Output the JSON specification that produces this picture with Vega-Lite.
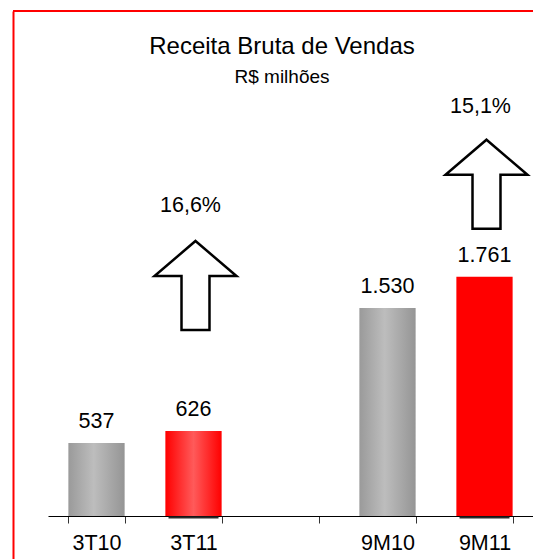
{
  "$schema": "https://vega.github.io/schema/vega-lite/v6.json",
  "width": 520,
  "height": 548,
  "autosize": {"type": "none"},
  "padding": {"left": 13, "top": 11, "right": 0, "bottom": 0},
  "background": "white",
  "config": {"view": {"stroke": null}, "font": "Liberation Sans"},
  "title": {
    "text": "Receita Bruta de Vendas",
    "subtitle": "R$ milhões",
    "anchor": "middle",
    "font": "Liberation Sans",
    "fontSize": 24,
    "fontWeight": "normal",
    "color": "black",
    "subtitleFont": "Liberation Sans",
    "subtitleFontSize": 19,
    "subtitleColor": "black",
    "subtitlePadding": 9,
    "offset": -77,
    "dx": 9
  },
  "data": {
    "values": [
      {"periodo": "3T10", "valor": 537, "rotulo": "537", "grupo": "anterior"},
      {"periodo": "3T11", "valor": 626, "rotulo": "626", "grupo": "atual_trimestre", "crescimento": "16,6%"},
      {"periodo": "9M10", "valor": 1530, "rotulo": "1.530", "grupo": "anterior"},
      {"periodo": "9M11", "valor": 1761, "rotulo": "1.761", "grupo": "atual_acumulado", "crescimento": "15,1%"}
    ]
  },
  "layer": [
    {
      "encoding": {
        "x": {
          "field": "periodo",
          "type": "nominal",
          "sort": null,
          "scale": {
            "domain": ["3T10", "3T11", " ", "9M10", "9M11"],
            "range": [35, 520],
            "paddingInner": 0.42,
            "paddingOuter": 0.21
          },
          "axis": {
            "title": null,
            "labelAngle": 0,
            "labelFont": "Liberation Sans",
            "labelFontSize": 21.5,
            "labelColor": "black",
            "labelPadding": 9,
            "tickColor": "#333333",
            "tickSize": 7,
            "tickBand": "extent",
            "domainColor": "black",
            "domainWidth": 1,
            "offset": -43,
            "grid": false
          }
        },
        "y": {
          "field": "valor",
          "type": "quantitative",
          "scale": {"domain": [-316.4, 3716], "nice": false, "zero": false},
          "axis": {
            "title": null,
            "orient": "left",
            "labels": false,
            "ticks": false,
            "grid": false,
            "domainColor": "#ff0000",
            "domainWidth": 2,
            "values": [3716]
          }
        }
      },
      "layer": [
        {
          "transform": [{"filter": "datum.grupo !== 'anterior'"}],
          "mark": {"type": "tick", "color": "#2a2a2a", "thickness": 2, "size": 50, "yOffset": 1.5, "opacity": 1},
          "encoding": {"y": {"datum": 0}}
        },
        {
          "transform": [{"filter": "datum.grupo === 'anterior'"}],
          "mark": {
            "type": "bar",
            "fill": {
              "gradient": "linear",
              "stops": [
                {"offset": 0, "color": "#9a9a9a"},
                {"offset": 0.45, "color": "#bdbdbd"},
                {"offset": 1, "color": "#959595"}
              ]
            }
          },
          "encoding": {"y2": {"datum": 0}}
        },
        {
          "transform": [{"filter": "datum.grupo === 'atual_trimestre'"}],
          "mark": {
            "type": "bar",
            "fill": {
              "gradient": "linear",
              "stops": [
                {"offset": 0, "color": "#ff0000"},
                {"offset": 0.5, "color": "#ff5a5a"},
                {"offset": 1, "color": "#ff0000"}
              ]
            }
          },
          "encoding": {"y2": {"datum": 0}}
        },
        {
          "transform": [{"filter": "datum.grupo === 'atual_acumulado'"}],
          "mark": {"type": "bar", "fill": "#ff0000"},
          "encoding": {"y2": {"datum": 0}}
        },
        {
          "mark": {
            "type": "text",
            "dy": -15,
            "baseline": "alphabetic",
            "align": "center",
            "font": "Liberation Sans",
            "fontSize": 21.5,
            "color": "black"
          },
          "encoding": {"text": {"field": "rotulo"}}
        },
        {
          "transform": [{"filter": "datum.periodo === '3T11'"}],
          "mark": {
            "type": "point",
            "shape": "M0,-0.989L0.911,-0.211L0.311,-0.211L0.311,0.989L-0.311,0.989L-0.311,-0.211L-0.911,-0.211Z",
            "size": 8100,
            "filled": true,
            "fill": "white",
            "stroke": "black",
            "strokeWidth": 2.5,
            "strokeJoin": "miter",
            "opacity": 1,
            "fillOpacity": 1,
            "xOffset": 2
          },
          "encoding": {"y": {"datum": 1696}}
        },
        {
          "transform": [{"filter": "datum.periodo === '9M11'"}],
          "mark": {
            "type": "point",
            "shape": "M0,-0.989L0.911,-0.211L0.311,-0.211L0.311,0.989L-0.311,0.989L-0.311,-0.211L-0.911,-0.211Z",
            "size": 8100,
            "filled": true,
            "fill": "white",
            "stroke": "black",
            "strokeWidth": 2.5,
            "strokeJoin": "miter",
            "opacity": 1,
            "fillOpacity": 1,
            "xOffset": 2
          },
          "encoding": {"y": {"datum": 2441}}
        },
        {
          "transform": [{"filter": "datum.periodo === '3T11'"}],
          "mark": {
            "type": "text",
            "baseline": "alphabetic",
            "align": "center",
            "dx": -3,
            "font": "Liberation Sans",
            "fontSize": 21.5,
            "color": "black"
          },
          "encoding": {"y": {"datum": 2239}, "text": {"field": "crescimento"}}
        },
        {
          "transform": [{"filter": "datum.periodo === '9M11'"}],
          "mark": {
            "type": "text",
            "baseline": "alphabetic",
            "align": "center",
            "dx": -4,
            "font": "Liberation Sans",
            "fontSize": 21.5,
            "color": "black"
          },
          "encoding": {"y": {"datum": 2963}, "text": {"field": "crescimento"}}
        }
      ]
    },
    {
      "mark": {"type": "rule", "color": "#ff0000", "strokeWidth": 2},
      "encoding": {"y": {"datum": 3716}}
    }
  ]
}
